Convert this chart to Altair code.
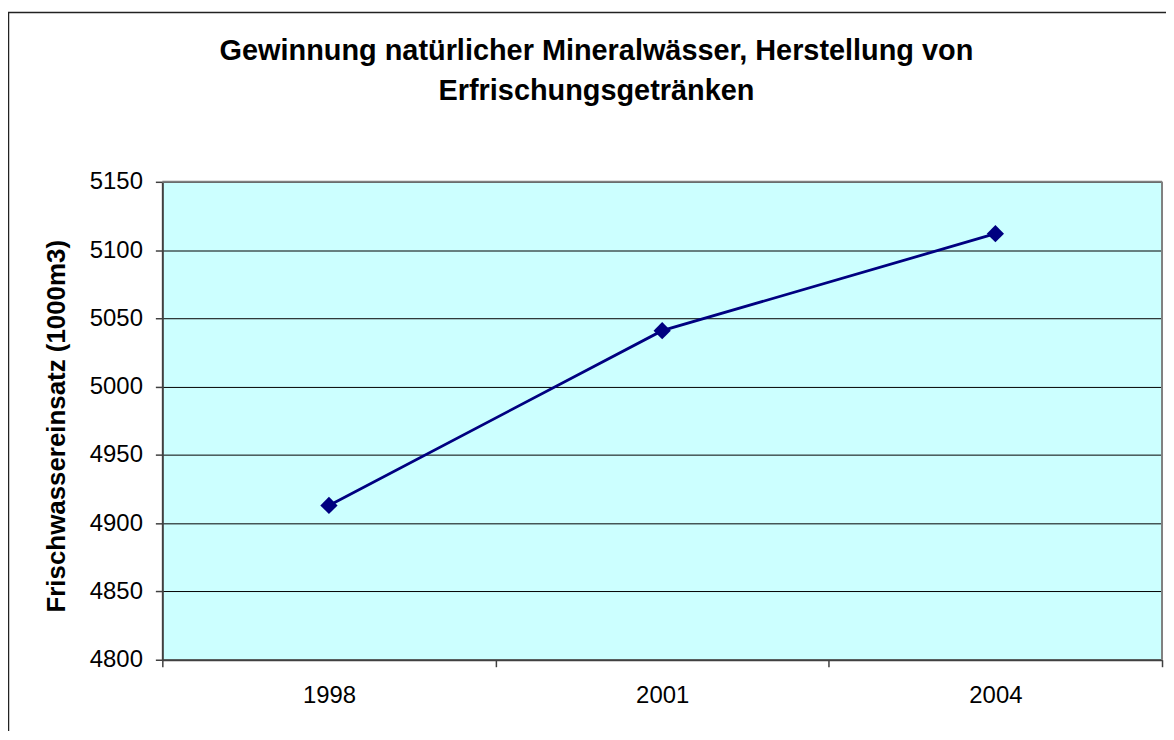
import altair as alt
import pandas as pd

years = ["1998", "2001", "2004"]
values = [4913, 5041, 5112]
y_ticks = [4800, 4850, 4900, 4950, 5000, 5050, 5100, 5150]
title_lines = ["Gewinnung natürlicher Mineralwässer, Herstellung von", "Erfrischungsgetränken"]
y_title = "Frischwassereinsatz (1000m3)"

W, H = 1004, 480
FONT = "Liberation Sans"

df = pd.DataFrame({"Jahr": years, "Wert": values})

x_enc = alt.X(
    "Jahr:N", sort=years, bandPosition=0.5,
    scale=alt.Scale(type="band", paddingInner=0, paddingOuter=0),
    axis=alt.Axis(title=None, tickBand="extent", labelAngle=0, labelFontSize=24,
                  labelFont=FONT, labelColor="black", tickColor="#404040", tickSize=7,
                  tickWidth=1.5, domainColor="#404040", domainWidth=2, labelPadding=17,
                  grid=False),
)
y_enc = alt.Y(
    "Wert:Q",
    scale=alt.Scale(domain=[4800, 5150], nice=False, zero=False),
    axis=alt.Axis(values=y_ticks, format="d", title=y_title, titleFontSize=26,
                  titleFont=FONT, titleFontWeight="bold", titleColor="black",
                  titleAngle=270, titleX=-98, titleY=245, titleAlign="center",
                  titleBaseline="alphabetic", labelFontSize=24, labelFont=FONT,
                  labelColor="black", labelPadding=13, tickSize=7, tickWidth=1.5,
                  tickColor="#404040", domainColor="#404040", domainWidth=2,
                  grid=True, gridColor="black", gridWidth=1),
)

base = alt.Chart(df)
line = base.mark_line(color="#000080", strokeWidth=2.8).encode(x=x_enc, y=y_enc)
pts = base.mark_point(shape="diamond", filled=True, size=300, color="#000080",
                      opacity=1).encode(x=x_enc, y=y_enc)

one = alt.Data(values=[{"a": 1}])
top_rule = alt.Chart(one).mark_rule(color="#808080", strokeWidth=2).encode(
    x=alt.value(0), x2=alt.value(W), y=alt.value(0))
right_rule = alt.Chart(one).mark_rule(color="#808080", strokeWidth=2).encode(
    x=alt.value(W), y=alt.value(0), y2=alt.value(H))
border = alt.Chart(one).mark_rect(fill="transparent", stroke="#222222", strokeWidth=1.5).encode(
    x=alt.value(-154.5), x2=alt.value(W + 30), y=alt.value(-170), y2=alt.value(H + 90))

t1 = alt.Chart(alt.Data(values=[{"t": title_lines[0]}])).mark_text(
    font=FONT, fontSize=29, fontWeight="bold", color="black", align="center",
    baseline="alphabetic").encode(x=alt.value(436), y=alt.value(-122), text="t:N")
t2 = alt.Chart(alt.Data(values=[{"t": title_lines[1]}])).mark_text(
    font=FONT, fontSize=29, fontWeight="bold", color="black", align="center",
    baseline="alphabetic").encode(x=alt.value(436), y=alt.value(-82), text="t:N")

chart = alt.layer(border, t1, t2, line, pts, top_rule, right_rule).properties(
    width=W, height=H,
    autosize=alt.AutoSizeParams(type="none"),
    padding={"left": 155, "top": 173, "right": 4, "bottom": 70},
    background="white",
).configure_view(fill="#CCFFFF", stroke=None)

chart.save("out.html", embed_options={"renderer": "svg", "actions": False})
